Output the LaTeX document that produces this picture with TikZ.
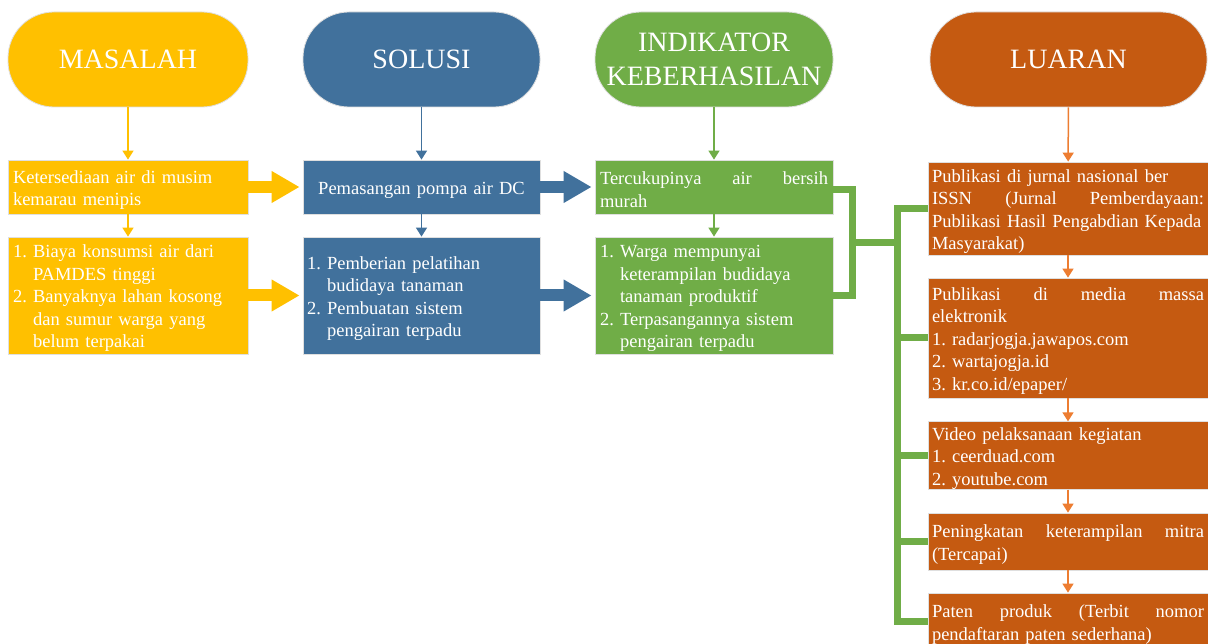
\documentclass[tikz,border=0pt]{standalone}
\usepackage{fontspec}
\setmainfont{Liberation Serif}
\frenchspacing
\usetikzlibrary{arrows.meta, calc}

\definecolor{masalah}{HTML}{FFC000}
\definecolor{solusi}{HTML}{41719C}
\definecolor{indikator}{HTML}{70AD47}
\definecolor{luaran}{HTML}{C55A11}
\definecolor{luaranline}{HTML}{ED7D31}

\tikzset{
    pill/.style={draw=gray!25, line width=0.8pt, fill=#1, text=white, rounded corners=46pt,
        minimum height=95pt, align=center, font=\fontsize{28}{34}\selectfont},
    box/.style={draw=gray!25, line width=0.8pt, fill=#1, text=white, inner ysep=0pt,
        align=left, font=\fontsize{18.5}{22.5}\selectfont,
        execute at begin node={\rule{0pt}{18.5pt}}},
    thin/.style={draw=#1, line width=1.5pt, -{Triangle[width=11pt,length=9pt]}},
    block/.style={draw=#1, line width=12pt, shorten >=3pt, -{Triangle[width=30pt,length=28pt]}},
    brk/.style={draw=indikator, line width=7pt, line join=miter},
}

\begin{document}
\begin{tikzpicture}[x=1pt,y=-1pt]
    \clip (0,0) rectangle (1208,644);
    \fill[white] (0,0) rectangle (1208,644);

    % headers
    \node[pill=masalah, minimum width=240pt] (hM) at (128,59.5) {MASALAH};
    \node[pill=solusi, minimum width=237pt] (hS) at (421.5,59.5) {SOLUSI};
    \node[pill=indikator, minimum width=238pt] (hI) at (714,59.5) {INDIKATOR\\KEBERHASILAN};
    \node[pill=luaran, minimum width=277pt] (hL) at (1068.5,59.5) {LUARAN};

    % masalah
    \node[box=masalah, inner xsep=5pt, text width=230pt, minimum height=54pt] (K1) at (128,187)
        {Ketersediaan air di musim\\kemarau menipis};
    \node[box=masalah, inner xsep=5pt, text width=230pt, minimum height=117pt] (K2) at (128,295.5)
        {1. Biaya konsumsi air dari\\\hphantom{1. }PAMDES tinggi\\2. Banyaknya lahan kosong\\\hphantom{2. }dan sumur warga yang\\\hphantom{2. }belum terpakai};

    % solusi
    \node[box=solusi, inner xsep=4pt, text width=229pt, minimum height=54pt, align=center] (S1) at (421.5,187)
        {Pemasangan pompa air DC};
    \node[box=solusi, inner xsep=4pt, text width=229pt, minimum height=117pt] (S2) at (421.5,295.5)
        {1. Pemberian pelatihan\\\hphantom{1. }budidaya tanaman\\2. Pembuatan sistem\\\hphantom{2. }pengairan terpadu};

    % indikator
    \node[box=indikator, inner xsep=5pt, text width=228pt, minimum height=54pt] (I1) at (714,187)
        {Tercukupinya\hfill air\hfill bersih\\murah};
    \node[box=indikator, inner xsep=5pt, text width=228pt, minimum height=117pt] (I2) at (714,295.5)
        {1. Warga mempunyai\\\hphantom{1. }keterampilan budidaya\\\hphantom{1. }tanaman produktif\\2. Terpasangannya sistem\\\hphantom{2. }pengairan terpadu};

    % luaran
    \node[box=luaran, inner xsep=4pt, text width=272pt, minimum height=93pt] (L1) at (1068,208.5)
        {Publikasi di jurnal nasional ber\\ISSN\hfill (Jurnal\hfill Pemberdayaan:\\Publikasi Hasil Pengabdian Kepada\\Masyarakat)};
    \node[box=luaran, inner xsep=4pt, text width=272pt, minimum height=120pt] (L2) at (1068,338)
        {Publikasi\hfill di\hfill media\hfill massa\\elektronik\\1. radarjogja.jawapos.com\\2. wartajogja.id\\3. kr.co.id/epaper/};
    \node[box=luaran, inner xsep=4pt, text width=272pt, minimum height=67pt] (L3) at (1068,455.5)
        {Video pelaksanaan kegiatan\\1. ceerduad.com\\2. youtube.com};
    \node[box=luaran, inner xsep=4pt, text width=272pt, minimum height=57pt] (L4) at (1068,541.5)
        {Peningkatan\hfill keterampilan\hfill mitra\\(Tercapai)};
    \node[box=luaran, inner xsep=4pt, text width=272pt, minimum height=57pt] (L5) at (1068,621.5)
        {Paten\hfill produk\hfill (Terbit\hfill nomor\\pendaftaran paten sederhana)};

    % down arrows
    \draw[thin=masalah] (hM) -- (K1);
    \draw[thin=masalah] (K1) -- (K2);
    \draw[thin=solusi] (hS) -- (S1);
    \draw[thin=solusi] (S1) -- (S2);
    \draw[thin=indikator] (hI) -- (I1);
    \draw[thin=indikator] (I1) -- (I2);
    \draw[thin=luaranline] (hL) -- (L1);
    \draw[thin=luaranline] (L1) -- (L2);
    \draw[thin=luaranline] (L2) -- (L3);
    \draw[thin=luaranline] (L3) -- (L4);
    \draw[thin=luaranline] (L4) -- (L5);

    % block arrows
    \draw[block=masalah] (K1.east) -- (S1.west);
    \draw[block=masalah] (K2.east) -- (S2.west);
    \draw[block=solusi] (S1.east) -- (I1.west);
    \draw[block=solusi] (S2.east) -- (I2.west);

    % bracket to luaran
    \draw[brk] ($(I1.east)+(0,3)$) -- ++(19,0) |- (I2.east);
    \coordinate (jn) at ($(I1.east)!.5!(I2.east)+(19,1.5)$);
    \draw[brk] (jn) -- ++(45,0) coordinate (hub);
    \draw[brk, line cap=rect] (hub |- L1.west) -- (hub |- L5.west);
    \foreach \n in {L1,L2,L3,L4,L5}
        \draw[brk] (hub |- \n.west) -- (\n.west);
\end{tikzpicture}
\end{document}
